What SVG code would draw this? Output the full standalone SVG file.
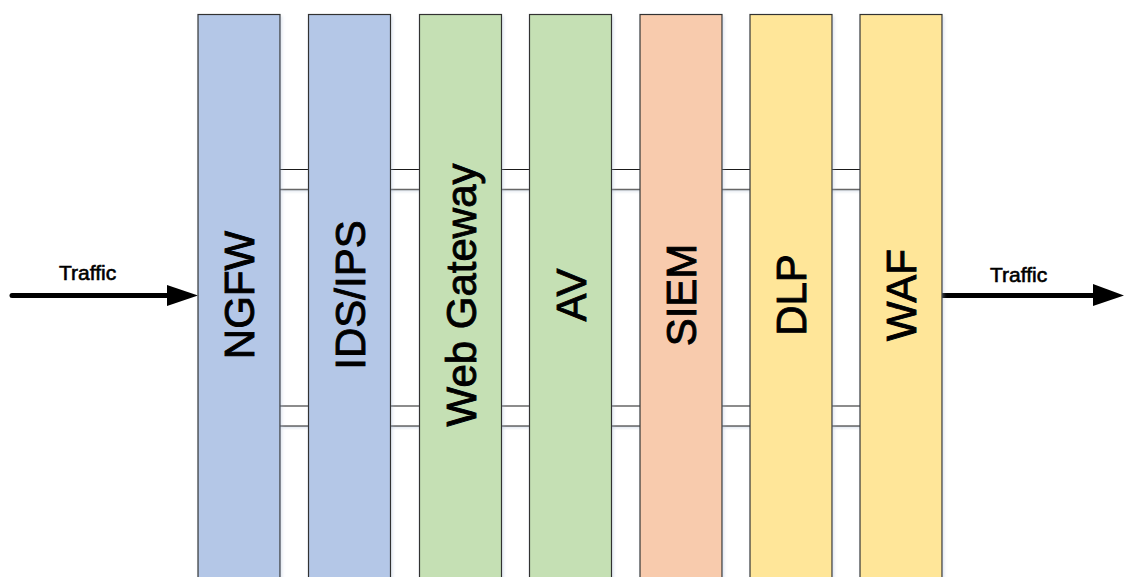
<svg xmlns="http://www.w3.org/2000/svg" width="1125" height="577" viewBox="0 0 1125 577">
  <defs>
    <style>
      .box { stroke: #333; stroke-width: 1.2; }
      .blue { fill: #b4c7e7; }
      .green { fill: #c5e0b4; }
      .orange { fill: #f8cbad; }
      .yellow { fill: #ffe699; }
      .label { font-family: "Liberation Sans", Arial, sans-serif; font-size: 42px; fill: #000; stroke: #000; stroke-width: 0.9; text-anchor: middle; }
      .traffic { font-family: "Liberation Sans", Arial, sans-serif; font-size: 21px; fill: #000; stroke: #000; stroke-width: 0.6; }
      .flow { stroke: #000; stroke-width: 5; stroke-linecap: round; fill: none; }
      .edge-dark { stroke: #1a1a1a; stroke-width: 1.2; }
      .edge-light { stroke: #666; stroke-width: 1.6; }
    </style>
    <filter id="soft" x="-10%" y="-10%" width="130%" height="130%">
      <feDropShadow dx="1.5" dy="2" stdDeviation="1.5" flood-color="#9fb2d0" flood-opacity="0.35"/>
    </filter>
  </defs>

  <rect width="1125" height="577" fill="#ffffff"/>

  <!-- pipes joining the stacked appliances -->
  <g id="connectors">
    <rect x="280" y="169.5" width="580" height="20" fill="#ffffff" filter="url(#soft)"/>
    <line class="edge-dark" x1="280" y1="169.5" x2="860" y2="169.5"/>
    <line class="edge-light" x1="280" y1="189.5" x2="860" y2="189.5"/>
    <rect x="280" y="406" width="580" height="20" fill="#ffffff" filter="url(#soft)"/>
    <line class="edge-light" x1="280" y1="406" x2="860" y2="406"/>
    <line class="edge-dark" x1="280" y1="426" x2="860" y2="426"/>

    <!-- inbound traffic -->
    <g id="traffic-in">
      <line class="flow" x1="12" y1="295.5" x2="170" y2="295.5"/>
      <polygon points="167,285 198,295.5 167,306" fill="#000"/>
      <text class="traffic" x="59" y="280">Traffic</text>
    </g>
    <!-- outbound traffic -->
    <g id="traffic-out">
      <line class="flow" x1="942" y1="295.5" x2="1096" y2="295.5"/>
      <polygon points="1093,284 1124,295.5 1093,306" fill="#000"/>
      <text class="traffic" x="990" y="282">Traffic</text>
    </g>
  </g>

  <g id="ngfw">
    <rect class="box blue" x="198" y="14.5" width="82" height="570" filter="url(#soft)"/>
    <text class="label" transform="translate(254,295) rotate(-90)">NGFW</text>
  </g>
  <g id="ids-ips">
    <rect class="box blue" x="308.5" y="14.5" width="82" height="570" filter="url(#soft)"/>
    <text class="label" transform="translate(364.5,295) rotate(-90)">IDS/IPS</text>
  </g>
  <g id="web-gateway">
    <rect class="box green" x="419.5" y="14.5" width="82" height="570" filter="url(#soft)"/>
    <text class="label" transform="translate(475.5,295) rotate(-90)">Web Gateway</text>
  </g>
  <g id="av">
    <rect class="box green" x="529.5" y="14.5" width="82" height="570" filter="url(#soft)"/>
    <text class="label" transform="translate(585.5,295) rotate(-90)">AV</text>
  </g>
  <g id="siem">
    <rect class="box orange" x="640" y="14.5" width="82" height="570" filter="url(#soft)"/>
    <text class="label" transform="translate(696,295) rotate(-90)">SIEM</text>
  </g>
  <g id="dlp">
    <rect class="box yellow" x="750" y="14.5" width="82" height="570" filter="url(#soft)"/>
    <text class="label" transform="translate(806,295) rotate(-90)">DLP</text>
  </g>
  <g id="waf">
    <rect class="box yellow" x="860" y="14.5" width="82" height="570" filter="url(#soft)"/>
    <text class="label" transform="translate(916,295) rotate(-90)">WAF</text>
  </g>
</svg>
